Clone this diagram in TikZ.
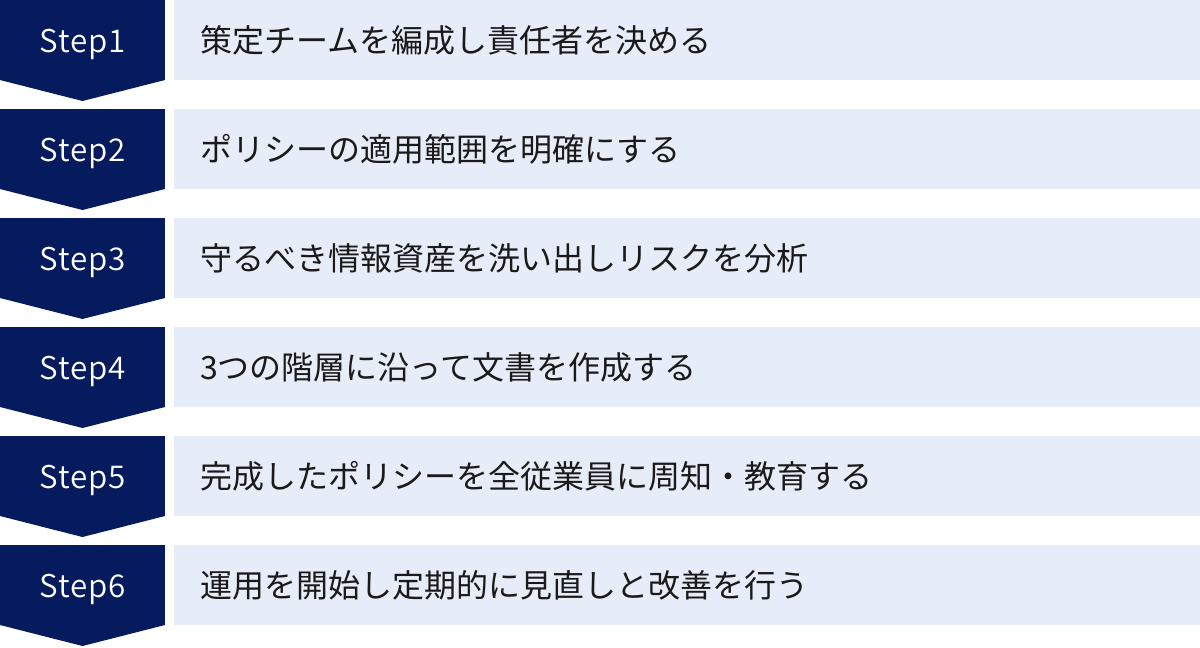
\documentclass[tikz,border=0pt]{standalone}
\usepackage{fontspec}
\setmainfont{Noto Sans CJK JP}
\newfontfamily\steplatin{Noto Sans CJK JP DemiLight}[LetterSpace=2.5]
\usetikzlibrary{positioning}
\definecolor{stepnavy}{HTML}{061A5E}
\definecolor{tasklight}{HTML}{E6ECF8}
\definecolor{taskink}{HTML}{1A1A1A}
\tikzset{
        node distance=21.75pt and 6.75pt, % gap between rows and between the two boxes
        stepbox/.style={fill=stepnavy, text=white, minimum width=123.75pt, minimum height=60pt, inner sep=0pt, outer sep=0pt, text height=19pt, text depth=0pt, font=\steplatin\fontsize{23.5}{27}\selectfont}, % dark label box
        taskbox/.style={fill=tasklight, text=taskink, text width=730.5pt, inner xsep=19.5pt, inner ysep=0pt, minimum height=60pt, outer sep=0pt, align=left, font=\fontsize{24}{28}\selectfont}, % light text band
        steptip/.style={fill=stepnavy}, % the point under each label box
        }

\begin{document}
\begin{tikzpicture}
        \useasboundingbox (0,0) rectangle (900pt,-485.25pt);
        % left column
        \node[stepbox, anchor=north west] (Step1) at (0,0) {Step1};
        \node[stepbox, below=of Step1] (Step2) {Step2};
        \node[stepbox, below=of Step2] (Step3) {Step3};
        \node[stepbox, below=of Step3] (Step4) {Step4};
        \node[stepbox, below=of Step4] (Step5) {Step5};
        \node[stepbox, below=of Step5] (Step6) {Step6};

        % points
        \fill[steptip] (Step1.south west) -- (Step1.south east) -- ([yshift=-15.75pt]Step1.south) -- cycle;
        \fill[steptip] (Step2.south west) -- (Step2.south east) -- ([yshift=-15.75pt]Step2.south) -- cycle;
        \fill[steptip] (Step3.south west) -- (Step3.south east) -- ([yshift=-15.75pt]Step3.south) -- cycle;
        \fill[steptip] (Step4.south west) -- (Step4.south east) -- ([yshift=-15.75pt]Step4.south) -- cycle;
        \fill[steptip] (Step5.south west) -- (Step5.south east) -- ([yshift=-15.75pt]Step5.south) -- cycle;
        \fill[steptip] (Step6.south west) -- (Step6.south east) -- ([yshift=-15.75pt]Step6.south) -- cycle;

        % right column
        \node[taskbox, right=of Step1] (Team) {策定チームを編成し責任者を決める};
        \node[taskbox, right=of Step2] (Scope) {ポリシーの適用範囲を明確にする};
        \node[taskbox, right=of Step3] (Risk) {守るべき情報資産を洗い出しリスクを分析};
        \node[taskbox, right=of Step4] (Docs) {3つの階層に沿って文書を作成する};
        \node[taskbox, right=of Step5] (Notice) {完成したポリシーを全従業員に周知・教育する};
        \node[taskbox, right=of Step6] (Review) {運用を開始し定期的に見直しと改善を行う};
    \end{tikzpicture}
\end{document}
